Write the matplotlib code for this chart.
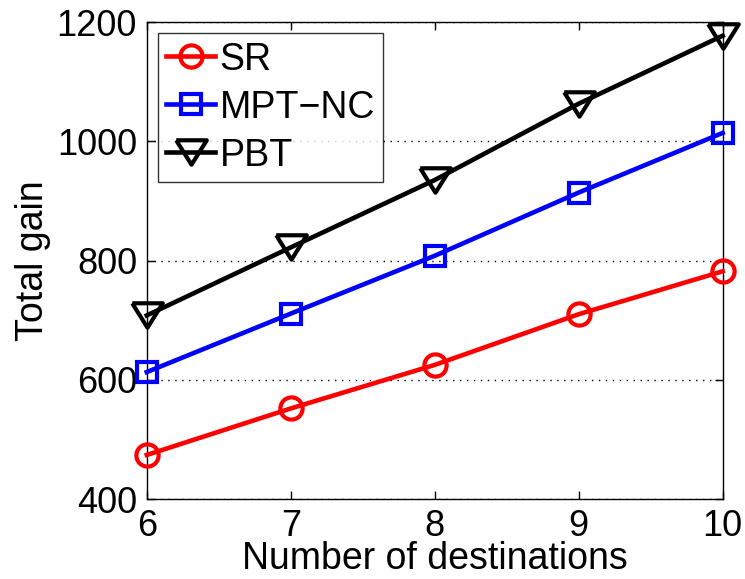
import matplotlib
matplotlib.use("Agg")
import matplotlib.pyplot as plt

plt.rcParams['font.family'] = ['Liberation Sans', 'DejaVu Sans']

x = [6, 7, 8, 9, 10]
sr = [474, 552, 625, 710, 782]
mpt = [613, 711, 808, 914, 1014]
pbt = [708, 822, 935, 1063, 1177]
xticks = [6, 7, 8, 9, 10]
yticks = [400, 600, 800, 1000, 1200]

fig = plt.figure(figsize=(7.45, 5.79), dpi=100)
ax = fig.add_axes([0.197, 0.138, 0.773, 0.824])

tri = [(-1, 0.8), (1, 0.8), (0, -0.8), (-1, 0.8)]

ax.plot(x, sr, color='#ff0000', lw=3.3, marker='o', ms=16, mfc='none', mew=3, label='SR', clip_on=False, zorder=3)
ax.plot(x, mpt, color='#0000ff', lw=3.3, marker='s', ms=15, mfc='none', mew=3, label='MPT\u2212NC', clip_on=False, zorder=3)
ax.plot(x, pbt, color='black', lw=3.3, marker=tri, ms=22, mfc='none', mew=3, label='PBT', clip_on=False, zorder=3)

ax.set_xlim(6, 10)
ax.set_ylim(400, 1200)
ax.set_xticks(xticks)
ax.set_yticks(yticks)
ax.tick_params(direction='in', labelsize=26, length=6, width=1, top=True, right=True, pad=7)
ax.yaxis.grid(True, linestyle=(0, (1, 4)), color='black', lw=1)
ax.set_xlabel('Number of destinations', fontsize=27, labelpad=-2)
ax.set_ylabel('Total gain', fontsize=27, labelpad=4)
for s in ax.spines.values():
    s.set_linewidth(1)

leg = ax.legend(loc='upper left', fontsize=27, frameon=True, fancybox=False, edgecolor='black',
                borderaxespad=0.3, handlelength=1.3, handletextpad=0.12, labelspacing=0.32, borderpad=0.22)
leg.get_frame().set_linewidth(1)

fig.savefig('out.png', dpi=100)
